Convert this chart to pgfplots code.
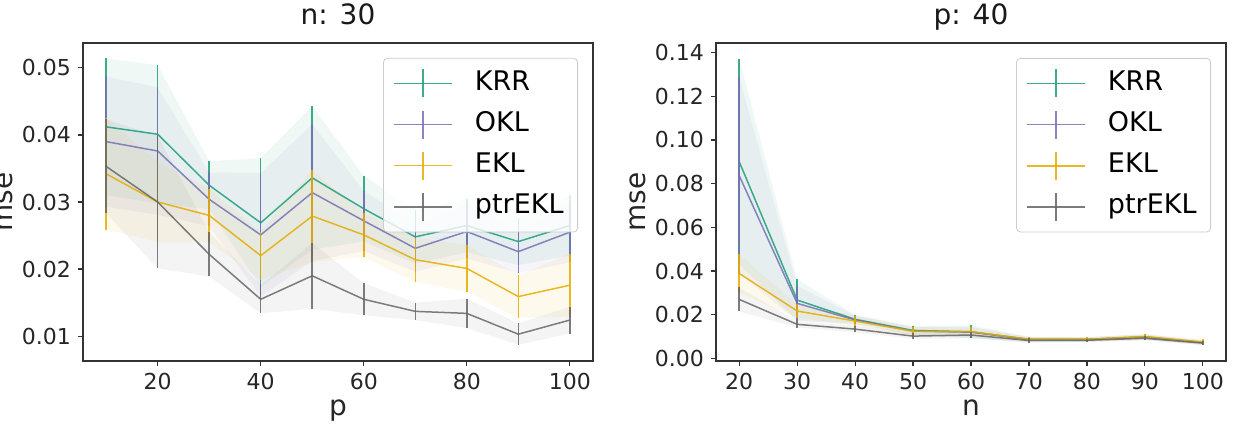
\documentclass[border=0pt]{standalone}
\usepackage{pgfplots}
\pgfplotsset{compat=1.18}
\usepgfplotslibrary{fillbetween}
\usepackage{pgfplotstable}
\usepackage{fontspec}
\setmainfont{DejaVu Sans}
\definecolor{cKRR}{HTML}{1B9E77}
\definecolor{cOKL}{HTML}{7570B3}
\definecolor{cEKL}{HTML}{E6AB02}
\definecolor{cPTR}{HTML}{666666}
\definecolor{spine}{HTML}{333333}

% n = 30, varying p
\pgfplotstableread{
x   km     ks     om     os     em     es     pm     ps
10  0.0412 0.0102 0.0390 0.0097 0.0342 0.0083 0.0353 0.0070
20  0.0401 0.0103 0.0376 0.0095 0.0300 0.0060 0.0300 0.0099
30  0.0325 0.0036 0.0304 0.0040 0.0280 0.0040 0.0222 0.0033
40  0.0269 0.0096 0.0251 0.0092 0.0220 0.0036 0.0155 0.0021
50  0.0336 0.0107 0.0314 0.0102 0.0279 0.0069 0.0190 0.0049
60  0.0290 0.0049 0.0272 0.0045 0.0251 0.0033 0.0155 0.0024
70  0.0248 0.0040 0.0231 0.0035 0.0214 0.0033 0.0137 0.0013
80  0.0265 0.0040 0.0256 0.0040 0.0201 0.0035 0.0134 0.0022
90  0.0241 0.0035 0.0226 0.0032 0.0159 0.0032 0.0103 0.0016
100 0.0265 0.0045 0.0255 0.0045 0.0176 0.0047 0.0124 0.0020
}\tabL

% p = 40, varying n
\pgfplotstableread{
x   km     ks     om     os     em     es     pm     ps
20  0.0901 0.0470 0.0837 0.0450 0.0389 0.0089 0.0270 0.0055
30  0.0267 0.0095 0.0252 0.0080 0.0217 0.0030 0.0156 0.0015
40  0.0179 0.0020 0.0176 0.0020 0.0171 0.0025 0.0134 0.0015
50  0.0128 0.0020 0.0125 0.0018 0.0124 0.0020 0.0102 0.0013
60  0.0122 0.0030 0.0120 0.0025 0.0122 0.0020 0.0107 0.0015
70  0.0087 0.0012 0.0086 0.0012 0.0088 0.0010 0.0082 0.0010
80  0.0087 0.0010 0.0086 0.0010 0.0088 0.0010 0.0083 0.0008
90  0.0099 0.0012 0.0097 0.0012 0.0100 0.0012 0.0092 0.0010
100 0.0073 0.0010 0.0072 0.0010 0.0075 0.0012 0.0070 0.0010
}\tabR

\pgfplotsset{
  mystyle/.style={
    scale only axis, width=255pt, height=159pt,
    axis line style={spine, line width=0.6pt},
    tick style={spine, line width=0.6pt},
    tick align=outside, major tick length=2.5pt,
    xtick pos=bottom, ytick pos=left,
    scaled y ticks=false, scaled x ticks=false,
    /pgf/number format/assume math mode=true,
    ticklabel style={font=\fontsize{11}{13}\selectfont, text=black!85},
    yticklabel style={/pgf/number format/fixed, /pgf/number format/fixed zerofill, /pgf/number format/precision=2},
    label style={font=\fontsize{14}{16}\selectfont, text=black!85},
    xlabel style={at={(axis description cs:0.5,-0.17)}, anchor=base},
    ylabel style={at={(axis description cs:-0.139,0.5)}, anchor=base},
    title style={font=\fontsize{14}{16}\selectfont, at={(axis description cs:0.5,1.019)}, anchor=base, text=black!90},
    legend style={at={(axis description cs:0.9706,0.953)}, anchor=north east,
      draw=black!20, fill=white, fill opacity=0.8, text opacity=1, rounded corners=2pt,
      font=\fontsize{13.5}{16}\selectfont,
      nodes={text height=10pt, text depth=3pt, inner ysep=2pt},
      row sep=3.6pt, column sep=9pt, inner xsep=5pt, inner ysep=4pt},
    legend cell align=left,
    legend image code/.code={
      \draw[##1, line width=0.75pt] (0pt,0pt) -- (29pt,0pt);
      \draw[##1, line width=0.75pt] (14.5pt,-7pt) -- (14.5pt,7pt);
    },
  },
  ser/.style={#1, draw opacity=0.85, line width=0.75pt, mark=none,
    error bars/.cd, y dir=both, y explicit, error mark=none,
    error bar style={line width=0.75pt, draw opacity=0.85}},
}

\newcommand{\band}[4]{% table, mean col, sd col, color
  \addplot[draw=none, forget plot, name path=hi#2] table[x=x, y expr=\thisrow{#2}+\thisrow{#3}]{#1};
  \addplot[draw=none, forget plot, name path=lo#2] table[x=x, y expr=\thisrow{#2}-\thisrow{#3}]{#1};
  \addplot[fill=#4, fill opacity=0.07, draw=none, forget plot] fill between[of=hi#2 and lo#2];
}

\begin{document}
\begin{tikzpicture}
\begin{axis}[mystyle, at={(41.5pt,32pt)}, anchor=south west,
  xmin=5.5, xmax=104.5, ymin=0.0063, ymax=0.0537,
  xtick={20,40,60,80,100}, ytick={0.01,0.02,0.03,0.04,0.05},
  title={n: 30}, xlabel={p}, ylabel={mse}]
  \addplot[ser=cKRR] table[x=x, y=km, y error=ks]{\tabL};
  \addlegendentry{KRR}
  \band{\tabL}{km}{ks}{cKRR}
  \addplot[ser=cOKL] table[x=x, y=om, y error=os]{\tabL};
  \addlegendentry{OKL}
  \band{\tabL}{om}{os}{cOKL}
  \addplot[ser=cEKL] table[x=x, y=em, y error=es]{\tabL};
  \addlegendentry{EKL}
  \band{\tabL}{em}{es}{cEKL}
  \addplot[ser=cPTR] table[x=x, y=pm, y error=ps]{\tabL};
  \addlegendentry{ptrEKL}
  \band{\tabL}{pm}{ps}{cPTR}
\end{axis}
\begin{axis}[mystyle, at={(358pt,32pt)}, anchor=south west,
  xmin=16, xmax=104, ymin=-0.0012, ymax=0.1444,
  xtick={20,30,40,50,60,70,80,90,100}, ytick={0,0.02,0.04,0.06,0.08,0.10,0.12,0.14},
  title={p: 40}, xlabel={n}, ylabel={mse}]
  \addplot[ser=cKRR] table[x=x, y=km, y error=ks]{\tabR};
  \addlegendentry{KRR}
  \band{\tabR}{km}{ks}{cKRR}
  \addplot[ser=cOKL] table[x=x, y=om, y error=os]{\tabR};
  \addlegendentry{OKL}
  \band{\tabR}{om}{os}{cOKL}
  \addplot[ser=cEKL] table[x=x, y=em, y error=es]{\tabR};
  \addlegendentry{EKL}
  \band{\tabR}{em}{es}{cEKL}
  \addplot[ser=cPTR] table[x=x, y=pm, y error=ps]{\tabR};
  \addlegendentry{ptrEKL}
  \band{\tabR}{pm}{ps}{cPTR}
\end{axis}
\pgfresetboundingbox
\path (0,0) rectangle (617pt,212.5pt);
\end{tikzpicture}
\end{document}
